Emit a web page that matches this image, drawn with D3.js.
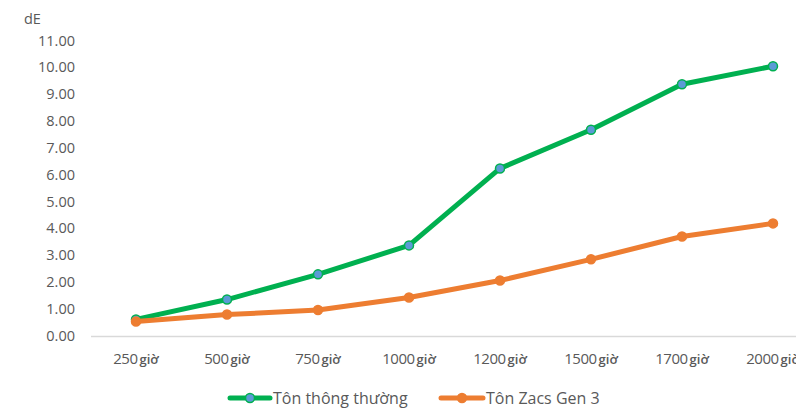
<!DOCTYPE html>
<html><head><meta charset="utf-8">
<script src="https://cdn.jsdelivr.net/npm/d3@7"></script>
<style>body{margin:0;background:#fff}svg{display:block}text{font-family:"Open Sans","Liberation Sans",sans-serif;fill:#595959}</style>
</head><body>
<svg id="c" width="796" height="410"></svg>
<script>
const categories = ["250", "500", "750", "1000", "1200", "1500", "1700", "2000"];
const unitLabel = "giờ";
const seriesNames = ["Tôn thông thường", "Tôn Zacs Gen 3"];
const normalValues = [0.60, 1.34, 2.28, 3.36, 6.23, 7.67, 9.37, 10.04];
const zacsValues = [0.52, 0.78, 0.95, 1.42, 2.05, 2.84, 3.69, 4.18];
const yTicks = [0,1,2,3,4,5,6,7,8,9,10,11];

const svg = d3.select("#c");
const x = d3.scaleBand().domain(categories).range([90.5, 818.5]);
const y = d3.scaleLinear().domain([0, 11]).range([335.5, 40.5]);

const yAxis = d3.axisLeft(y).tickValues(yTicks).tickFormat(d3.format(".2f")).tickSize(0).tickPadding(0);
const gy = svg.append("g").attr("transform","translate(75,0)").call(yAxis);
gy.select(".domain").remove();
gy.selectAll("text").attr("font-size","14.5px").attr("fill","#595959").style("font-family","'Open Sans','Liberation Sans',sans-serif");

svg.append("text").attr("x",24).attr("y",24).attr("font-size","14.5px").text("dE");

const xAxis = d3.axisBottom(x).tickSize(0).tickFormat("");
const gx = svg.append("g").attr("transform","translate(0,336)").call(xAxis);
gx.select(".domain").attr("stroke","#d9d9d9").attr("stroke-width",1.5);
categories.forEach(c => {
  const t = svg.append("text").attr("x", x(c)+x.bandwidth()/2).attr("y",364).attr("text-anchor","middle");
  t.append("tspan").attr("font-size","15px").attr("letter-spacing","-0.5px").text(c);
  t.append("tspan").attr("font-size","13px").attr("font-weight","600").attr("dx",2).text(unitLabel);
});

const cx = c => x(c)+x.bandwidth()/2;
const line = d3.line().x((d,i)=>cx(categories[i])).y(d=>y(d));
const series = [
  {name: seriesNames[0], values: normalValues, color:"#00B050", marker:"#5B9BD5"},
  {name: seriesNames[1], values: zacsValues, color:"#ED7D31", marker:"#ED7D31"}
];
series.forEach(s => {
  svg.append("path").datum(s.values).attr("d", line).attr("fill","none")
    .attr("stroke", s.color).attr("stroke-width",5).attr("stroke-linejoin","round").attr("stroke-linecap","round");
  svg.selectAll(null).data(s.values).enter().append("circle")
    .attr("cx",(d,i)=>cx(categories[i])).attr("cy",d=>y(d)).attr("r",4.5)
    .attr("fill", s.marker).attr("stroke", s.color).attr("stroke-width",1.5);
});

const legendPos = [{x:230, w:40}, {x:441, w:42}];
series.forEach((s,i) => {
  const g = svg.append("g");
  const lx = legendPos[i].x, lw = legendPos[i].w, ly = 398;
  g.append("line").attr("x1",lx).attr("x2",lx+lw).attr("y1",ly).attr("y2",ly)
    .attr("stroke",s.color).attr("stroke-width",5).attr("stroke-linecap","round");
  g.append("circle").attr("cx",lx+lw/2).attr("cy",ly).attr("r",4.5).attr("fill",s.marker).attr("stroke",s.color).attr("stroke-width",1.5);
  g.append("text").attr("x",lx+lw+3).attr("y",ly+6).attr("font-size","16px").text(s.name);
});
</script>
</body></html>
